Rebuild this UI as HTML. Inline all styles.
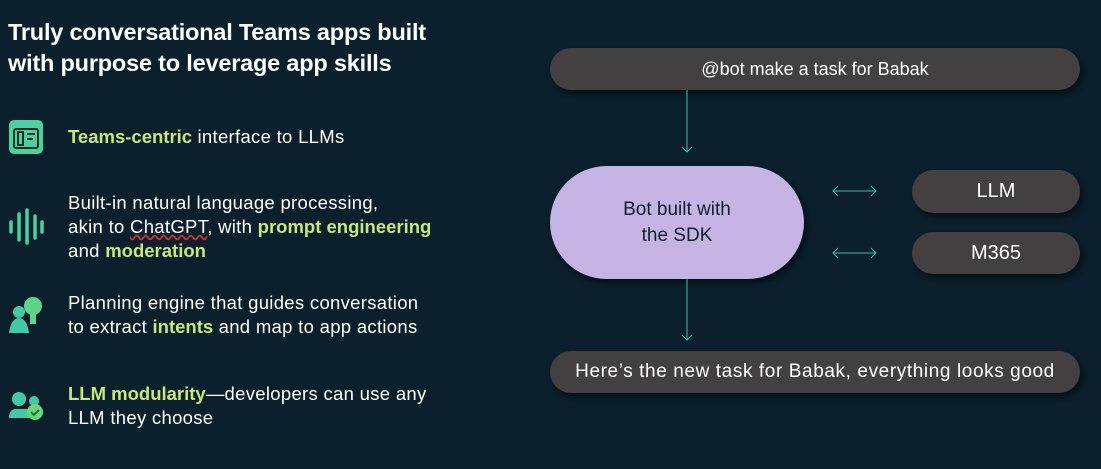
<!DOCTYPE html>
<html><head><style>
body{margin:0;width:1101px;height:469px;background:#0b1f2c;font-family:"Liberation Sans",sans-serif;position:relative;overflow:hidden;color:#fff}
.t{position:absolute;left:8px;top:17px;font-size:23.5px;font-weight:bold;line-height:31px;letter-spacing:-0.2px}
.p{position:absolute;left:68px;font-size:18.5px;line-height:24px;letter-spacing:0.3px}
.g{color:#c9e77c;font-weight:bold;letter-spacing:0}
.pill{position:absolute;background:#444041;border-radius:22px;color:#fff;font-size:18px;display:flex;align-items:center;justify-content:center;box-shadow:3px 4px 6px rgba(0,0,0,.45)}
.ic{position:absolute}
</style></head><body>
<div class="t">Truly conversational Teams apps built<br>with purpose to leverage app skills</div>
<div class="p" style="top:125px"><span class="g">Teams-centric</span> interface to LLMs</div>
<div class="p" style="top:191px">Built-in natural language processing,<br>akin to <span style="text-decoration:underline wavy #c33">ChatGPT</span>, with <span class="g">prompt engineering</span><br>and <span class="g">moderation</span></div>
<div class="p" style="top:291px">Planning engine that guides conversation<br>to extract <span class="g">intents</span> and map to app actions</div>
<div class="p" style="top:382px"><span class="g">LLM modularity</span>—developers can use any<br>LLM they choose</div>
<svg class="ic" width="60" height="469" style="left:0;top:0">
<rect x="9" y="120" width="34" height="34" rx="5" fill="#4fcf9c"/>
<rect x="14" y="129" width="24" height="19" rx="2" fill="none" stroke="#12302e" stroke-width="2"/>
<rect x="18" y="132" width="5" height="13" fill="none" stroke="#12302e" stroke-width="2"/>
<line x1="27" y1="134" x2="35" y2="134" stroke="#12302e" stroke-width="2"/><line x1="27" y1="139" x2="33" y2="139" stroke="#12302e" stroke-width="2"/>
<g stroke="#4fcf9c" stroke-width="3.5" stroke-linecap="round">
<line x1="11" y1="222" x2="11" y2="232"/><line x1="19" y1="214" x2="19" y2="240"/><line x1="27" y1="210" x2="27" y2="243"/><line x1="35" y1="216" x2="35" y2="238"/><line x1="42" y1="222" x2="42" y2="232"/></g>
<circle cx="19" cy="312" r="6" fill="#45c8a8"/><path d="M9 333 Q11 318 19 318 Q27 318 29 333 Z" fill="#45c8a8"/>
<circle cx="33" cy="306" r="9" fill="#5fd38a"/><rect x="30" y="312" width="6" height="12" fill="#5fd38a"/>
<circle cx="19" cy="399" r="7" fill="#45c8a8"/><circle cx="34" cy="401" r="5" fill="#45c8a8"/>
<path d="M9 418 Q9 409 16 409 L30 409 Q32 413 30 418 Z" fill="#45c8a8"/>
<circle cx="35" cy="412" r="8" fill="#6bd67a"/><path d="M31 412 l3 3 l5 -5" stroke="#173" stroke-width="2" fill="none"/>
</svg>
<div class="pill" style="left:550px;top:48px;width:530px;height:42px">@bot make a task for Babak</div>
<div class="pill" style="left:550px;top:166px;width:254px;height:113px;border-radius:57px;background:#c5b3e3;color:#102030;font-size:19px;line-height:26px;text-align:center">Bot built with<br>the SDK</div>
<div class="pill" style="left:912px;top:170px;width:168px;height:43px;font-size:20px">LLM</div>
<div class="pill" style="left:912px;top:232px;width:168px;height:42px;font-size:20px">M365</div>
<div class="pill" style="left:550px;top:351px;width:530px;height:42px;font-size:19px;letter-spacing:0.6px">Here’s the new task for Babak, everything looks good</div>
<svg class="ic" width="1101" height="469" style="left:0;top:0" fill="none" stroke="#3fbfa8" stroke-width="1">
<line x1="687" y1="90" x2="687" y2="152"/><path d="M682 147 l5 5 l5 -5"/>
<line x1="687" y1="279" x2="687" y2="340"/><path d="M682 335 l5 5 l5 -5"/>
<line x1="833" y1="191" x2="876" y2="191"/><path d="M838 186 l-5 5 l5 5 M871 186 l5 5 l-5 5"/>
<line x1="833" y1="253" x2="876" y2="253"/><path d="M838 248 l-5 5 l5 5 M871 248 l5 5 l-5 5"/>
</svg>
</body></html>
